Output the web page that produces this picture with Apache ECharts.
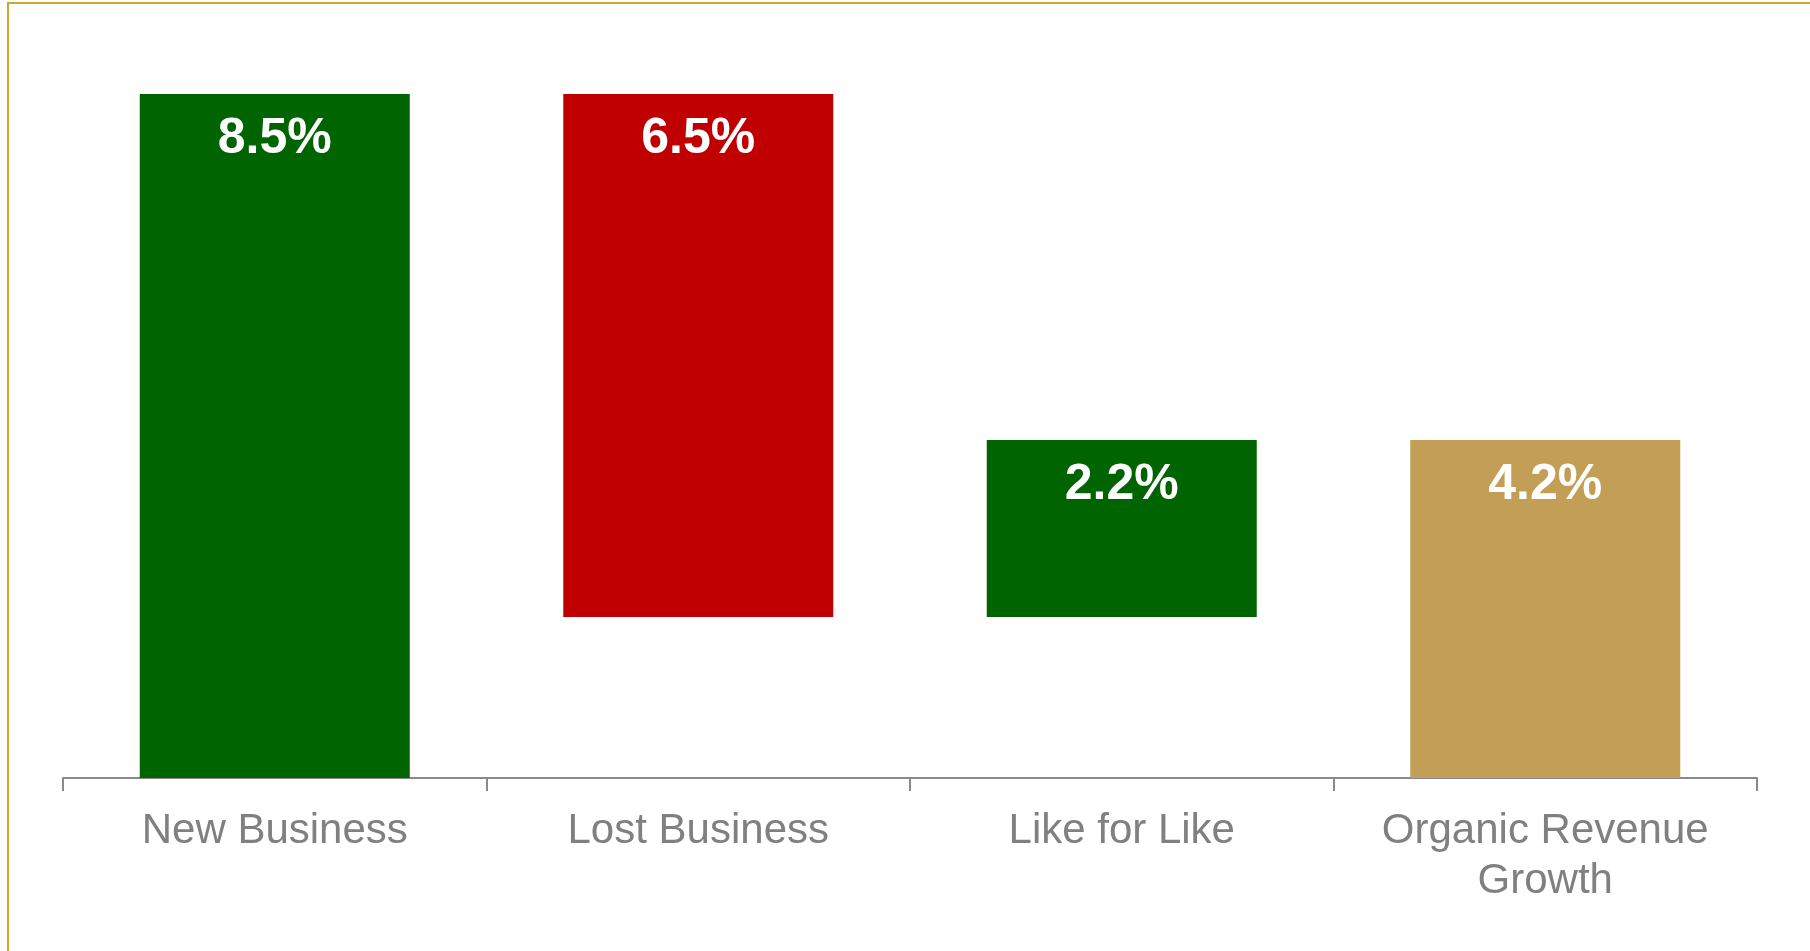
<!DOCTYPE html>
<html>
<head>
<meta charset="utf-8">
<script src="https://cdn.jsdelivr.net/npm/echarts@6/dist/echarts.min.js"></script>
<style>
  html, body { margin: 0; padding: 0; background: #fff; overflow: hidden; }
  #frame {
    position: absolute; left: 7px; top: 2px; width: 1900px; height: 1100px;
    border-top: 2px solid #D4A52C; border-left: 2px solid #D4A52C;
    box-sizing: border-box;
  }
  #chart { position: absolute; left: 0; top: 0; width: 1810px; height: 951px; }
</style>
</head>
<body>
<div id="frame"></div>
<div id="chart"></div>
<script>
// Revenue bridge: contributions to organic revenue growth (%)
const categories = ['New Business', 'Lost Business', 'Like for Like', 'Organic Revenue\nGrowth'];
const changes = [8.5, -6.5, 2.2, 4.2];          // signed movement; last entry is the total
const isTotal = [false, false, false, true];
const barColors = ['#006400', '#C00000', '#006400', '#C29E56'];

// Floating-bar geometry from the running total
const baseValues = [];
const barValues = [];
let running = 0;
changes.forEach((c, i) => {
  if (isTotal[i]) {
    baseValues.push(0);
    barValues.push(c);
  } else {
    const next = running + c;
    baseValues.push(Math.min(running, next));
    barValues.push(Math.abs(c));
    running = next;
  }
});

const chart = echarts.init(document.getElementById('chart'), null, { renderer: 'canvas' });
const font = "'Liberation Sans', Arial, sans-serif";

chart.setOption({
  animation: false,
  grid: { left: 63, right: 53, top: 94, bottom: 173 },
  xAxis: {
    type: 'category',
    data: categories,
    axisLine: { lineStyle: { color: '#8A8A8A', width: 2 } },
    axisTick: { show: true, length: 13, lineStyle: { color: '#8A8A8A', width: 2 } },
    axisLabel: {
      color: '#808080', fontSize: 42, fontFamily: font,
      lineHeight: 50, margin: 28, interval: 0
    }
  },
  yAxis: { type: 'value', min: 0, max: 8.5, show: false, splitLine: { show: false } },
  series: [
    {
      type: 'bar', stack: 'bridge', barWidth: 270,
      itemStyle: { color: 'transparent' },
      silent: true,
      data: baseValues
    },
    {
      type: 'bar', stack: 'bridge', barWidth: 270,
      data: barValues.map((v, i) => ({ value: v, itemStyle: { color: barColors[i] } })),
      label: {
        show: true, position: 'insideTop', distance: 20,
        color: '#FFFFFF', fontSize: 50, fontWeight: 'bold', fontFamily: font,
        formatter: p => p.value.toFixed(1) + '%'
      }
    }
  ]
});
</script>
</body>
</html>
